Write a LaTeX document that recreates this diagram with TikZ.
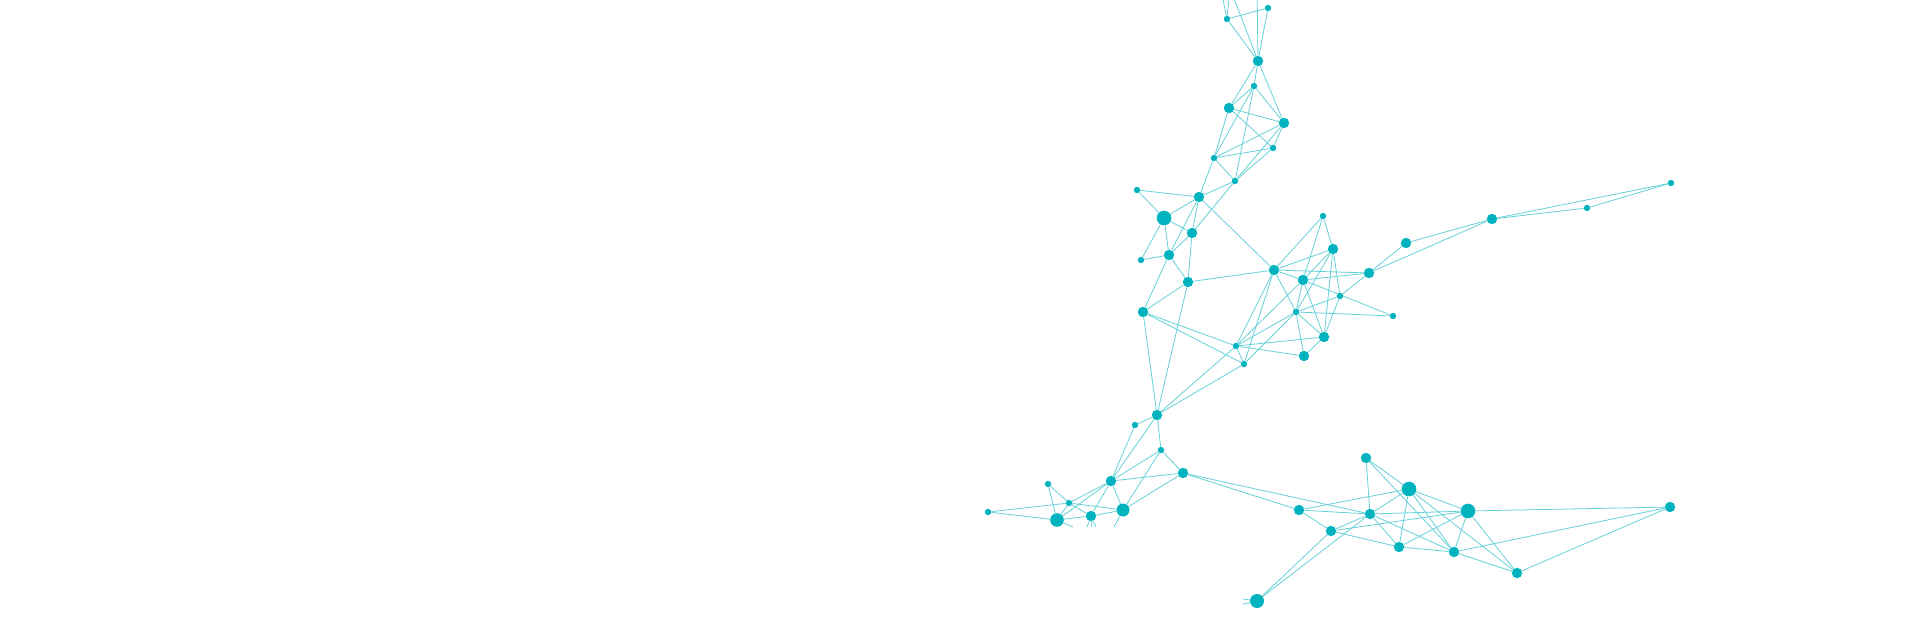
\documentclass[tikz,border=0pt]{standalone}
\definecolor{teal}{HTML}{00B3BF}
\pgfdeclarelayer{edges}
\pgfsetlayers{edges,main}
\tikzset{
  nd/.style={circle,fill=teal,draw=none,inner sep=0pt,minimum size=#1},
  sm/.style={nd=6.4pt},
  md/.style={nd=10.4pt},
  bg/.style={nd=14.6pt},
  ed/.style={draw=teal!60,line width=0.8pt},
}
\begin{document}
\begin{tikzpicture}[x=1pt,y=-1pt]
\useasboundingbox (0,0) rectangle (1920,620);
\clip (0,0) rectangle (1920,620);
% off-canvas / stub coordinates
\coordinate (O1) at (1230,-12);
\coordinate (O2) at (1220,-15);
\coordinate (O3) at (1257,-15);
\coordinate (S1) at (1073,527);
\coordinate (S2) at (1087,527);
\coordinate (S3) at (1092,527);
\coordinate (S4) at (1096,527);
\coordinate (S5) at (1114,527);
\coordinate (S6) at (1243,599);
\coordinate (S7) at (1243,604);
% top chain
\node[sm] (A1) at (1268,8) {};
\node[sm] (A2) at (1227,19) {};
\node[md] (A3) at (1258,61) {};
\node[sm] (A4) at (1254,86) {};
\node[md] (A5) at (1229,108) {};
\node[md] (A6) at (1284,123) {};
\node[sm] (A7) at (1273,148) {};
\node[sm] (A8) at (1214,158) {};
\node[sm] (A9) at (1235,181) {};
\node[md] (A10) at (1199,197) {};
\node[sm] (B1) at (1137,190) {};
\node[bg] (B4) at (1164,218) {};
\node[md] (B5) at (1192,233) {};
\node[sm] (B6) at (1141,260) {};
\node[md] (B7) at (1169,255) {};
\node[md] (B8) at (1188,282) {};
\node[md] (B9) at (1143,312) {};
% middle cluster
\node[sm] (C1) at (1323,216) {};
\node[md] (C2) at (1333,249) {};
\node[md] (C3) at (1274,270) {};
\node[md] (C4) at (1303,280) {};
\node[md] (C5) at (1369,273) {};
\node[md] (C6) at (1406,243) {};
\node[sm] (C7) at (1340,296) {};
\node[sm] (C8) at (1393,316) {};
\node[sm] (C9) at (1296,312) {};
\node[md] (C10) at (1324,337) {};
\node[md] (C11) at (1304,356) {};
\node[sm] (C12) at (1236,346) {};
\node[sm] (C13) at (1244,364) {};
\node[md] (D3) at (1492,219) {};
\node[sm] (D4) at (1587,208) {};
\node[sm] (D5) at (1671,183) {};
% lower left
\node[md] (E1) at (1157,415) {};
\node[sm] (E2) at (1135,425) {};
\node[sm] (E3) at (1161,450) {};
\node[md] (E4) at (1183,473) {};
\node[nd=13pt] (F7) at (1123,510) {};
\node[sm] (F1) at (988,512) {};
\node[sm] (F2) at (1048,484) {};
\node[sm] (F3) at (1069,503) {};
\node[nd=13.6pt] (F4) at (1057,520) {};
\node[md] (F5) at (1091,516) {};
\node[md] (F6) at (1111,481) {};
% lower right
\node[md] (G3) at (1299,510) {};
\node[md] (G1) at (1366,458) {};
\node[bg] (G2) at (1409,489) {};
\node[md] (G4) at (1370,514) {};
\node[bg] (G5) at (1468,511) {};
\node[md] (G6) at (1331,531) {};
\node[md] (G7) at (1399,547) {};
\node[md] (G8) at (1454,552) {};
\node[md] (I) at (1517,573) {};
\node[md] (H) at (1670,507) {};
\node[nd=14pt] (J) at (1257,601) {};
\begin{pgfonlayer}{edges}
\fill[white] (0,0) rectangle (1920,620);
\foreach \a/\b in {O1/A2,O2/A2,O1/A3,O3/A3,A1/A2,A1/A3,A2/A3,
  A3/A4,A3/A5,A3/A6,A4/A5,A4/A6,A4/A8,A4/A9,A5/A6,A5/A7,A5/A8,
  A6/A7,A6/A8,A6/A9,A7/A8,A7/A9,A8/A9,A8/A10,
  A9/A10,A9/B5,A10/B1,A10/B4,A10/B5,A10/B7,A10/C3,
  B1/B4,B4/B5,B4/B7,B4/B6,B5/B7,B5/B8,B6/B7,B7/B8,B7/B9,
  B8/B9,B8/C3,B8/E1,B9/E1,B9/C12,B9/C13,
  C1/C3,C1/C2,C1/C4,C2/C3,C2/C4,C2/C9,C2/C10,C2/C7,
  C3/C5,C3/C4,C3/C9,C3/C12,C3/C13,C4/C5,C4/C8,C4/C10,C4/C12,C4/C9,
  C5/C6,C5/C7,C5/D3,C7/C9,C8/C9,C9/C10,C9/C11,C9/C12,C9/C13,
  C10/C7,C10/C11,C10/C12,C12/C11,C12/C13,C12/E1,C13/E1,
  C6/D3,D3/D4,D3/D5,D4/D5,
  E1/E2,E1/E3,E1/F6,E2/F6,E3/F6,E3/E4,E3/F7,E4/F7,E4/F6,E4/G3,E4/G4,
  F1/F3,F1/F4,F2/F3,F2/F4,F3/F4,F3/F5,F3/F6,F3/F7,F4/F5,F4/F6,F5/F6,F5/F7,F6/F7,
  F4/S1,F5/S2,F5/S3,F5/S4,F7/S5,J/S6,J/S7,
  G1/G4,G1/G2,G1/G8,G2/G3,G2/G4,G2/G5,G2/G7,G2/G8,G2/I,
  G3/G4,G3/G6,G4/G5,G4/G6,G4/G7,G4/G8,G6/G7,G6/G5,G7/G5,G7/G8,
  G8/G5,G8/H,G8/I,G5/I,G5/H,I/H,G4/J,G6/J}
  \draw[ed] (\a) -- (\b);
\end{pgfonlayer}
\end{tikzpicture}
\end{document}
